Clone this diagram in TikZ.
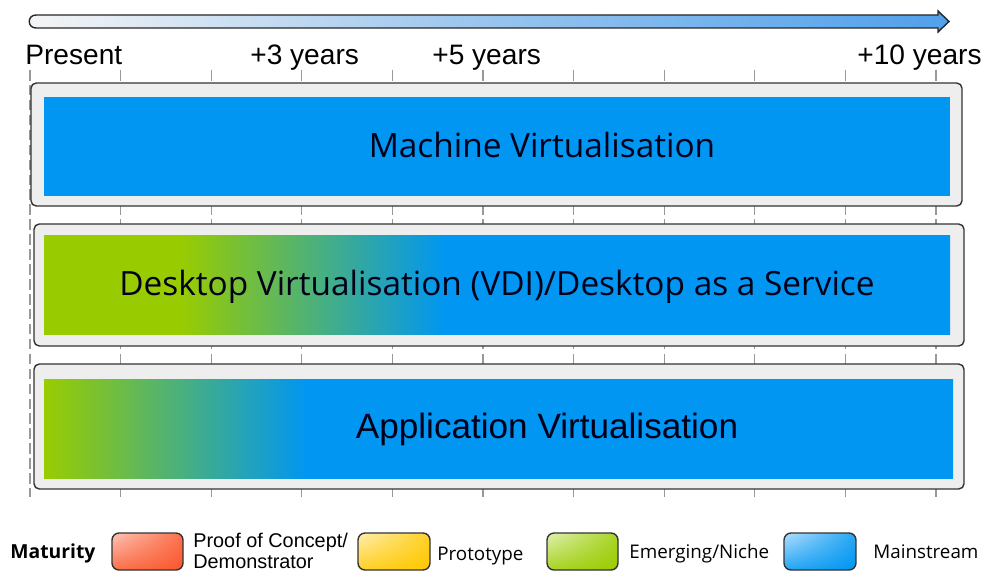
\documentclass[tikz,border=0pt]{standalone}
\usepackage{fontspec}
\setmainfont{Liberation Sans}
\newfontfamily\humfont{Open Sans}
\usepackage{xcolor}
\usepackage{tikz}
\usetikzlibrary{shadings}
\definecolor{mainblue}{RGB}{0,150,242}
\definecolor{emerggreen}{RGB}{153,204,0}
\definecolor{proofred}{RGB}{250,88,45}
\definecolor{protoyellow}{RGB}{255,200,0}
\definecolor{framegray}{RGB}{238,238,238}
\definecolor{arrowblue}{RGB}{80,160,235}
%green to blue, the bar spans 25bp..75bp of the shading
\pgfdeclarehorizontalshading{desktopfade}{100bp}{color(0bp)=(emerggreen); color(32.5bp)=(emerggreen); color(47.2bp)=(mainblue); color(100bp)=(mainblue)}
\pgfdeclarehorizontalshading{appfade}{100bp}{color(0bp)=(emerggreen); color(25bp)=(emerggreen); color(39.5bp)=(mainblue); color(100bp)=(mainblue)}

\begin{document}
\begin{tikzpicture}[x=0.02cm,y=-0.02cm,
		tickline/.style={gray!80,dash pattern=on 6pt off 2.5pt,line width=0.6pt},
		rowframe/.style={draw=black!80,fill=framegray,line width=0.8pt,rounded corners=3pt},
		rowtext/.style={anchor=base,font=\humfont\fontsize{19}{22}\selectfont,text=black!90!blue},
		yearlabel/.style={anchor=base west,font=\fontsize{16}{19}\selectfont,inner sep=0pt},
		legendbox/.style={draw=black!80,line width=0.8pt,rounded corners=4pt},
		legendtext/.style={anchor=base west,inner sep=0pt,font=\humfont\fontsize{10.7}{13}\selectfont}]
		\useasboundingbox (0,0) rectangle (982,571);
		%time arrow
		\path[draw=black!85,line width=0.8pt,left color=gray!8,right color=arrowblue,middle color=gray!8!arrowblue!60]
			(36,15) -- (938,15) -- (938,11) -- (949,21.5) -- (938,32) -- (938,28) -- (36,28)
			.. controls (27,28) and (27,15) .. (36,15) -- cycle;
		%years
		\node[yearlabel] (present) at (25,65) {Present};
		\node[yearlabel] (three) at (250,65) {+3 years};
		\node[yearlabel] (five) at (432,65) {+5 years};
		\node[yearlabel] (ten) at (857,65) {+10 years};
		%ticks
		\foreach \i in {0,...,10}
			\draw[tickline] ({30+90.6*\i},70) -- ({30+90.6*\i},497);
		%rows
		\draw[rowframe] (31,83) rectangle (962,206);
		\fill[mainblue] (44,97) rectangle (950,196);
		\node[rowtext] (machine) at (542,157) {Machine Virtualisation};
		\draw[rowframe] (34,224) rectangle (964,346);
		\shade[shading=desktopfade] (44,235) rectangle (950,334);
		\node[rowtext] (desktop) at (497,295) {Desktop Virtualisation (VDI)/Desktop as a Service};
		\draw[rowframe] (34,364) rectangle (964,489);
		\shade[shading=appfade] (44,379) rectangle (953,478);
		\node[rowtext,font=\fontsize{20}{24}\selectfont] (application) at (547,438) {Application Virtualisation};
		%legend
		\node[anchor=base west,inner sep=0pt,font=\humfont\bfseries\fontsize{11}{13}\selectfont] (maturity) at (10,558) {Maturity};
		\path[legendbox,upper left=proofred!35!white,upper right=proofred!85!white,lower left=proofred!85!white,lower right=proofred] (112,533) rectangle (183,570);
		\node[anchor=base west,inner sep=0pt,font=\fontsize{11.3}{13}\selectfont] (proof) at (193,547) {Proof of Concept/};
		\node[anchor=base west,inner sep=0pt,font=\fontsize{11.3}{13}\selectfont] (demo) at (193,568) {Demonstrator};
		\path[legendbox,upper left=protoyellow!30!white,upper right=protoyellow!85!white,lower left=protoyellow!85!white,lower right=protoyellow] (358,533) rectangle (430,570);
		\node[legendtext] (prototype) at (437,560) {Prototype};
		\path[legendbox,upper left=emerggreen!30!white,upper right=emerggreen!85!white,lower left=emerggreen!85!white,lower right=emerggreen] (547,533) rectangle (618,570);
		\node[legendtext] (emerging) at (629,558) {Emerging/Niche};
		\path[legendbox,upper left=mainblue!30!white,upper right=mainblue!85!white,lower left=mainblue!85!white,lower right=mainblue] (784,533) rectangle (856,570);
		\node[legendtext] (mainstream) at (873,558) {Mainstream};
	\end{tikzpicture}
\end{document}
